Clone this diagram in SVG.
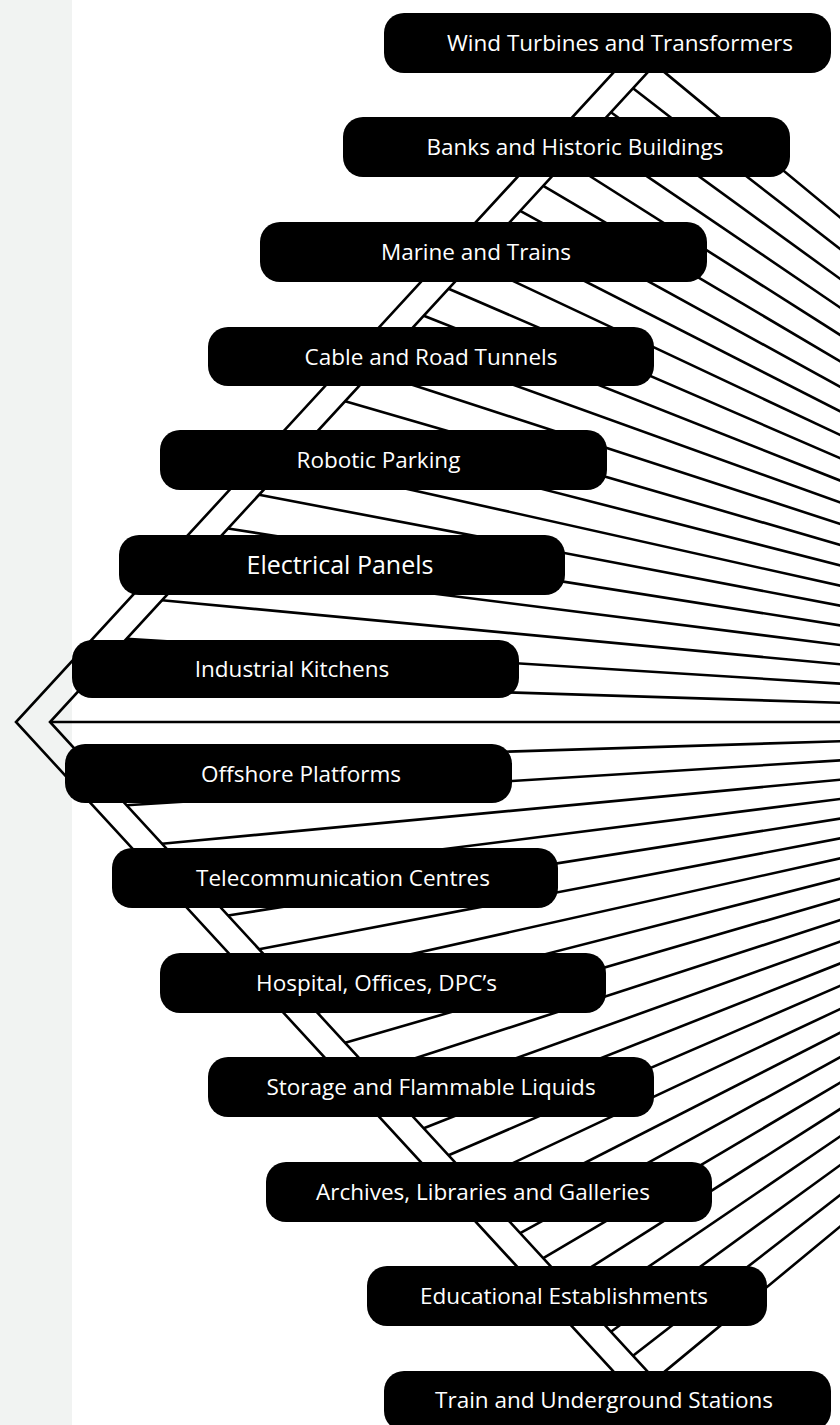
<svg xmlns="http://www.w3.org/2000/svg" width="840" height="1425" viewBox="0 0 840 1425">
<style>
.ln{fill:none;stroke:#000;stroke-width:2.6;stroke-linejoin:miter;stroke-miterlimit:10}
.box rect{fill:#000}
.box text{fill:#fff;font-family:"Open Sans","Noto Sans","DejaVu Sans",sans-serif;font-size:22.5px;text-anchor:middle}
.box text.big{font-size:25px}
</style>
<rect width="840" height="1425" fill="#fff"/>
<rect width="72" height="1425" fill="#f1f3f2"/>
<g id="connectors" class="ln">
<path d="M1450,722L635.7,48.4L16,722L635.7,1395.6Z"/>
<path d="M655,64.3L50,722L655,1379.7"/>
<line x1="50" y1="722" x2="1450" y2="722"/>
<line x1="89.3" y1="679.2" x2="1450" y2="722"/>
<line x1="126.6" y1="638.7" x2="1450" y2="722"/>
<line x1="162" y1="600.2" x2="1450" y2="722"/>
<line x1="195.8" y1="563.6" x2="1450" y2="722"/>
<line x1="228.1" y1="528.5" x2="1450" y2="722"/>
<line x1="259" y1="494.8" x2="1450" y2="722"/>
<line x1="288.7" y1="462.5" x2="1450" y2="722"/>
<line x1="317.4" y1="431.3" x2="1450" y2="722"/>
<line x1="345.2" y1="401.2" x2="1450" y2="722"/>
<line x1="372.2" y1="371.8" x2="1450" y2="722"/>
<line x1="398.3" y1="343.4" x2="1450" y2="722"/>
<line x1="423.8" y1="315.7" x2="1450" y2="722"/>
<line x1="448.6" y1="288.7" x2="1450" y2="722"/>
<line x1="473" y1="262.2" x2="1450" y2="722"/>
<line x1="496.8" y1="236.3" x2="1450" y2="722"/>
<line x1="520.2" y1="210.9" x2="1450" y2="722"/>
<line x1="543.3" y1="185.8" x2="1450" y2="722"/>
<line x1="566.1" y1="161" x2="1450" y2="722"/>
<line x1="588.6" y1="136.6" x2="1450" y2="722"/>
<line x1="610.9" y1="112.3" x2="1450" y2="722"/>
<line x1="633" y1="88.3" x2="1450" y2="722"/>
<line x1="89.3" y1="764.8" x2="1450" y2="722"/>
<line x1="126.6" y1="805.3" x2="1450" y2="722"/>
<line x1="162" y1="843.8" x2="1450" y2="722"/>
<line x1="195.8" y1="880.4" x2="1450" y2="722"/>
<line x1="228.1" y1="915.5" x2="1450" y2="722"/>
<line x1="259" y1="949.2" x2="1450" y2="722"/>
<line x1="288.7" y1="981.5" x2="1450" y2="722"/>
<line x1="317.4" y1="1012.7" x2="1450" y2="722"/>
<line x1="345.2" y1="1042.8" x2="1450" y2="722"/>
<line x1="372.2" y1="1072.2" x2="1450" y2="722"/>
<line x1="398.3" y1="1100.6" x2="1450" y2="722"/>
<line x1="423.8" y1="1128.3" x2="1450" y2="722"/>
<line x1="448.6" y1="1155.3" x2="1450" y2="722"/>
<line x1="473" y1="1181.8" x2="1450" y2="722"/>
<line x1="496.8" y1="1207.7" x2="1450" y2="722"/>
<line x1="520.2" y1="1233.1" x2="1450" y2="722"/>
<line x1="543.3" y1="1258.2" x2="1450" y2="722"/>
<line x1="566.1" y1="1283" x2="1450" y2="722"/>
<line x1="588.6" y1="1307.4" x2="1450" y2="722"/>
<line x1="610.9" y1="1331.7" x2="1450" y2="722"/>
<line x1="633" y1="1355.7" x2="1450" y2="722"/>
</g>
<g id="n1" class="box"><rect x="384" y="13" width="447" height="60" rx="20"/><text x="620" y="51">Wind Turbines and Transformers</text></g>
<g id="n2" class="box"><rect x="343" y="117" width="447" height="60" rx="20"/><text x="575" y="155">Banks and Historic Buildings</text></g>
<g id="n3" class="box"><rect x="260" y="222" width="447" height="60" rx="20"/><text x="476" y="260">Marine and Trains</text></g>
<g id="n4" class="box"><rect x="208" y="327" width="446" height="59" rx="20"/><text x="431" y="365">Cable and Road Tunnels</text></g>
<g id="n5" class="box"><rect x="160" y="430" width="447" height="60" rx="20"/><text x="378.5" y="468">Robotic Parking</text></g>
<g id="n6" class="box"><rect x="119" y="535" width="446" height="60" rx="20"/><text class="big" x="340" y="574">Electrical Panels</text></g>
<g id="n7" class="box"><rect x="72" y="640" width="447" height="58" rx="20"/><text x="292" y="677">Industrial Kitchens</text></g>
<g id="n8" class="box"><rect x="65" y="744" width="447" height="59" rx="20"/><text x="301" y="782">Offshore Platforms</text></g>
<g id="n9" class="box"><rect x="112" y="848" width="446" height="60" rx="20"/><text x="343" y="886">Telecommunication Centres</text></g>
<g id="n10" class="box"><rect x="160" y="953" width="446" height="60" rx="20"/><text x="376.5" y="991">Hospital, Offices, DPC’s</text></g>
<g id="n11" class="box"><rect x="208" y="1057" width="446" height="60" rx="20"/><text x="431" y="1095">Storage and Flammable Liquids</text></g>
<g id="n12" class="box"><rect x="266" y="1162" width="446" height="60" rx="20"/><text x="483" y="1200">Archives, Libraries and Galleries</text></g>
<g id="n13" class="box"><rect x="367" y="1266" width="400" height="60" rx="20"/><text x="564" y="1304">Educational Establishments</text></g>
<g id="n14" class="box"><rect x="384" y="1371" width="447" height="60" rx="20"/><text x="604" y="1408">Train and Underground Stations</text></g>
</svg>
